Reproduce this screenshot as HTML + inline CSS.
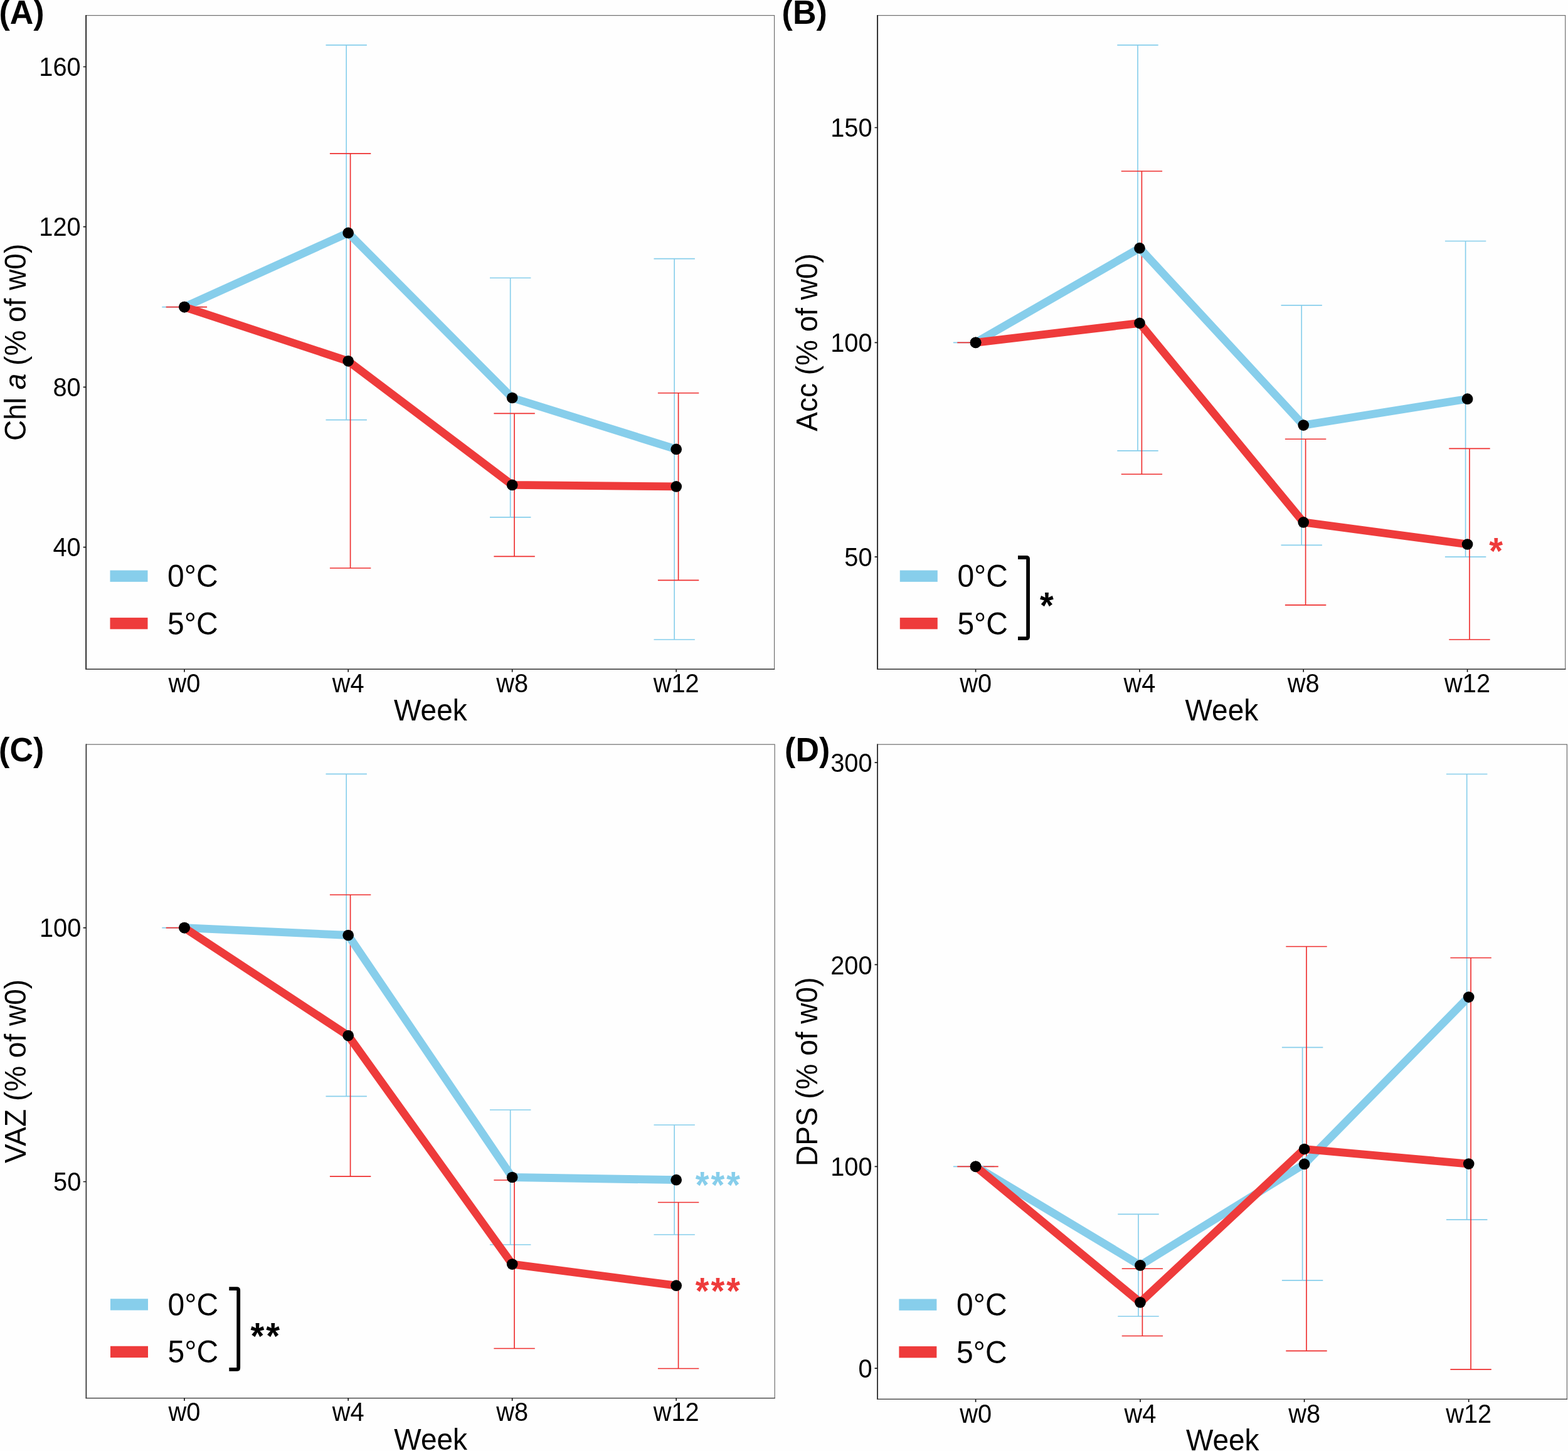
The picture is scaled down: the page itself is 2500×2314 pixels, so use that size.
<!DOCTYPE html>
<html lang="en">
<head>
<meta charset="utf-8">
<title>Pigment content (% of w0) over weeks at 0°C and 5°C</title>
<style>
html,body{margin:0;padding:0;background:#fefefe}
body{width:2500px;height:2314px;overflow:hidden}
svg{display:block}
text{font-family:"Liberation Sans",Arial,Helvetica,sans-serif;fill:#000}
.tk{font-size:39.8px}
.tt{font-size:46px}
.lg{font-size:48px}
.pl{font-size:52px;font-weight:bold}
.st{font-size:56px;font-weight:bold;letter-spacing:2.9px}
</style>
</head>
<body>
<svg width="2500" height="2314" viewBox="0 0 2500 2314">
<rect width="2500" height="2314" fill="#fefefe"/>
<g id="panel-A">
<rect x="137.2" y="24.6" width="1097.4" height="1042.6" fill="none" stroke="#6e6e6e" stroke-width="1.2"/>
<g stroke="#87CEEB" stroke-width="1.65" fill="none">
<path d="M258.3 489.6H323.7"/>
<path d="M519.5 71.8H584.9M519.5 669.6H584.9M552.2 71.8V669.6"/>
<path d="M781 443.2H846.4M781 824.8H846.4M813.7 443.2V824.8"/>
<path d="M1042.5 412.6H1107.9M1042.5 1020H1107.9M1075.2 412.6V1020"/>
</g>
<g stroke="#EE2E2E" stroke-width="1.65" fill="none">
<path d="M264.7 489.6H330.1"/>
<path d="M525.9 244.8H591.3M525.9 906H591.3M558.6 244.8V906"/>
<path d="M787.4 659.4H852.8M787.4 887.4H852.8M820.1 659.4V887.4"/>
<path d="M1048.9 626.7H1114.3M1048.9 925.4H1114.3M1081.6 626.7V925.4"/>
</g>
<polyline points="294,489.6 555.2,371.4 816.7,634.5 1078.2,716.4" fill="none" stroke="#87CEEB" stroke-width="12.8" stroke-linejoin="round" stroke-linecap="butt"/>
<polyline points="294,489.6 555.2,575.8 816.7,773.4 1078.2,775.9" fill="none" stroke="#EE3B3B" stroke-width="12.8" stroke-linejoin="round" stroke-linecap="butt"/>
<g fill="#000">
<circle cx="294" cy="489.6" r="8.85"/>
<circle cx="555.2" cy="371.4" r="8.85"/>
<circle cx="816.7" cy="634.5" r="8.85"/>
<circle cx="1078.2" cy="716.4" r="8.85"/>
<circle cx="294" cy="489.6" r="8.85"/>
<circle cx="555.2" cy="575.8" r="8.85"/>
<circle cx="816.7" cy="773.4" r="8.85"/>
<circle cx="1078.2" cy="775.9" r="8.85"/>
</g>
<path d="M137.2 24V1067.8" fill="none" stroke="#2a2a2a" stroke-width="1.9"/>
<path d="M136.6 1067.2H1235.2" fill="none" stroke="#404040" stroke-width="1.4"/>
<path d="M132.7 106.5H137.2M132.7 361.6H137.2M132.7 617.3H137.2M132.7 872.6H137.2M294 1067.2V1071.7M555.2 1067.2V1071.7M816.7 1067.2V1071.7M1078.2 1067.2V1071.7" stroke="#1a1a1a" stroke-width="1.7" fill="none"/>
<text class="tk" transform="translate(128.7 120.9) scale(1 1.07)" text-anchor="end">160</text>
<text class="tk" transform="translate(128.7 376) scale(1 1.07)" text-anchor="end">120</text>
<text class="tk" transform="translate(128.7 631.7) scale(1 1.07)" text-anchor="end">80</text>
<text class="tk" transform="translate(128.7 887) scale(1 1.07)" text-anchor="end">40</text>
<text class="tk" transform="translate(294 1103.5) scale(1 1.07)" text-anchor="middle">w0</text>
<text class="tk" transform="translate(555.2 1103.5) scale(1 1.07)" text-anchor="middle">w4</text>
<text class="tk" transform="translate(816.7 1103.5) scale(1 1.07)" text-anchor="middle">w8</text>
<text class="tk" transform="translate(1078.2 1103.5) scale(1 1.07)" text-anchor="middle">w12</text>
<text class="tt" transform="translate(686.4 1149.2) scale(1 1.04)" text-anchor="middle">Week</text>
<text class="tt" transform="translate(40.7 545.9) rotate(-90) scale(1 1.04)" text-anchor="middle" xml:space="preserve">Chl <tspan font-style="italic">a</tspan> (% of w0)</text>
<text class="pl" transform="translate(-1.5 38.1) scale(1 1.04)">(A)</text>
<rect x="175.5" y="909.55" width="60" height="18.3" fill="#87CEEB"/>
<rect x="175.5" y="985.05" width="60" height="18.3" fill="#EE3B3B"/>
<text class="lg" transform="translate(267.1 936.1) scale(1 1.06)">0°C</text>
<text class="lg" transform="translate(267.1 1011.6) scale(1 1.06)">5°C</text>
</g>
<g id="panel-B">
<rect x="1399.1" y="24.6" width="1096.6" height="1042.6" fill="none" stroke="#6e6e6e" stroke-width="1.2"/>
<g stroke="#87CEEB" stroke-width="1.65" fill="none">
<path d="M1519.9 546.3H1585.3"/>
<path d="M1781.3 71.8H1846.7M1781.3 718.9H1846.7M1814 71.8V718.9"/>
<path d="M2042.5 486.8H2107.9M2042.5 869.4H2107.9M2075.2 486.8V869.4"/>
<path d="M2303.9 384.5H2369.3M2303.9 888.1H2369.3M2336.6 384.5V888.1"/>
</g>
<g stroke="#EE2E2E" stroke-width="1.65" fill="none">
<path d="M1526.3 546.3H1591.7"/>
<path d="M1787.7 273H1853.1M1787.7 756.2H1853.1M1820.4 273V756.2"/>
<path d="M2048.9 700.2H2114.3M2048.9 964.8H2114.3M2081.6 700.2V964.8"/>
<path d="M2310.3 715.4H2375.7M2310.3 1020H2375.7M2343 715.4V1020"/>
</g>
<polyline points="1555.6,546.3 1817,395.7 2078.2,678.1 2339.6,636.2" fill="none" stroke="#87CEEB" stroke-width="12.8" stroke-linejoin="round" stroke-linecap="butt"/>
<polyline points="1555.6,546.3 1817,515.3 2078.2,832.9 2339.6,868" fill="none" stroke="#EE3B3B" stroke-width="12.8" stroke-linejoin="round" stroke-linecap="butt"/>
<g fill="#000">
<circle cx="1555.6" cy="546.3" r="8.85"/>
<circle cx="1817" cy="395.7" r="8.85"/>
<circle cx="2078.2" cy="678.1" r="8.85"/>
<circle cx="2339.6" cy="636.2" r="8.85"/>
<circle cx="1555.6" cy="546.3" r="8.85"/>
<circle cx="1817" cy="515.3" r="8.85"/>
<circle cx="2078.2" cy="832.9" r="8.85"/>
<circle cx="2339.6" cy="868" r="8.85"/>
</g>
<path d="M1399.1 24V1067.8" fill="none" stroke="#2a2a2a" stroke-width="1.9"/>
<path d="M1398.5 1067.2H2496.3" fill="none" stroke="#404040" stroke-width="1.4"/>
<path d="M1394.6 203.5H1399.1M1394.6 546.3H1399.1M1394.6 888.1H1399.1M1555.6 1067.2V1071.7M1817 1067.2V1071.7M2078.2 1067.2V1071.7M2339.6 1067.2V1071.7" stroke="#1a1a1a" stroke-width="1.7" fill="none"/>
<text class="tk" transform="translate(1390.6 217.9) scale(1 1.07)" text-anchor="end">150</text>
<text class="tk" transform="translate(1390.6 560.7) scale(1 1.07)" text-anchor="end">100</text>
<text class="tk" transform="translate(1390.6 902.5) scale(1 1.07)" text-anchor="end">50</text>
<text class="tk" transform="translate(1555.6 1103.5) scale(1 1.07)" text-anchor="middle">w0</text>
<text class="tk" transform="translate(1817 1103.5) scale(1 1.07)" text-anchor="middle">w4</text>
<text class="tk" transform="translate(2078.2 1103.5) scale(1 1.07)" text-anchor="middle">w8</text>
<text class="tk" transform="translate(2339.6 1103.5) scale(1 1.07)" text-anchor="middle">w12</text>
<text class="tt" transform="translate(1947.9 1149.2) scale(1 1.04)" text-anchor="middle">Week</text>
<text class="tt" transform="translate(1302.6 545.9) rotate(-90) scale(1 1.04)" text-anchor="middle" xml:space="preserve">Acc (% of w0)</text>
<text class="pl" transform="translate(1246.6 38.1) scale(1 1.04)">(B)</text>
<rect x="1434.8" y="909.55" width="60" height="18.3" fill="#87CEEB"/>
<rect x="1434.8" y="985.05" width="60" height="18.3" fill="#EE3B3B"/>
<text class="lg" transform="translate(1526.4 936.1) scale(1 1.06)">0°C</text>
<text class="lg" transform="translate(1526.4 1011.6) scale(1 1.06)">5°C</text>
<path d="M1623 889H1636.5Q1639.1 889 1639.1 891.6V1015.5Q1639.1 1018.1 1636.5 1018.1H1623" fill="none" stroke="#000" stroke-width="5.8" stroke-linejoin="round"/>
<text class="st" transform="translate(1657.9 986.3) scale(1 1.05)" style="fill:#000">*</text>
<text class="st" transform="translate(2374.3 899.2) scale(1 1.05)" style="fill:#EE3B3B">*</text>
</g>
<g id="panel-C">
<rect x="137.2" y="1187.2" width="1098" height="1042.4" fill="none" stroke="#6e6e6e" stroke-width="1.2"/>
<g stroke="#87CEEB" stroke-width="1.65" fill="none">
<path d="M258.3 1479.6H323.7"/>
<path d="M519.5 1234.4H584.9M519.5 1748.4H584.9M552.2 1234.4V1748.4"/>
<path d="M781 1770H846.4M781 1985H846.4M813.7 1770V1985"/>
<path d="M1042.5 1794H1107.9M1042.5 1969H1107.9M1075.2 1794V1969"/>
</g>
<g stroke="#EE2E2E" stroke-width="1.65" fill="none">
<path d="M264.7 1479.6H330.1"/>
<path d="M525.9 1427H591.3M525.9 1876.1H591.3M558.6 1427V1876.1"/>
<path d="M787.4 1882H852.8M787.4 2150.5H852.8M820.1 1882V2150.5"/>
<path d="M1048.9 1917.5H1114.3M1048.9 2182.5H1114.3M1081.6 1917.5V2182.5"/>
</g>
<polyline points="294,1479.6 555.2,1491.5 816.7,1877.5 1078.2,1881.7" fill="none" stroke="#87CEEB" stroke-width="12.8" stroke-linejoin="round" stroke-linecap="butt"/>
<polyline points="294,1479.6 555.2,1651.6 816.7,2016.1 1078.2,2050.2" fill="none" stroke="#EE3B3B" stroke-width="12.8" stroke-linejoin="round" stroke-linecap="butt"/>
<g fill="#000">
<circle cx="294" cy="1479.6" r="8.85"/>
<circle cx="555.2" cy="1491.5" r="8.85"/>
<circle cx="816.7" cy="1877.5" r="8.85"/>
<circle cx="1078.2" cy="1881.7" r="8.85"/>
<circle cx="294" cy="1479.6" r="8.85"/>
<circle cx="555.2" cy="1651.6" r="8.85"/>
<circle cx="816.7" cy="2016.1" r="8.85"/>
<circle cx="1078.2" cy="2050.2" r="8.85"/>
</g>
<path d="M137.5 1186.6V2230.2" fill="none" stroke="#2a2a2a" stroke-width="1.4"/>
<path d="M136.6 2229.6H1235.8" fill="none" stroke="#404040" stroke-width="1.4"/>
<path d="M132.7 1479.6H137.2M132.7 1884.5H137.2M294 2229.6V2234.1M555.2 2229.6V2234.1M816.7 2229.6V2234.1M1078.2 2229.6V2234.1" stroke="#1a1a1a" stroke-width="1.7" fill="none"/>
<text class="tk" transform="translate(129.3 1494) scale(1 1.07)" text-anchor="end">100</text>
<text class="tk" transform="translate(129.3 1898.9) scale(1 1.07)" text-anchor="end">50</text>
<text class="tk" transform="translate(294 2265.9) scale(1 1.07)" text-anchor="middle">w0</text>
<text class="tk" transform="translate(555.2 2265.9) scale(1 1.07)" text-anchor="middle">w4</text>
<text class="tk" transform="translate(816.7 2265.9) scale(1 1.07)" text-anchor="middle">w8</text>
<text class="tk" transform="translate(1078.2 2265.9) scale(1 1.07)" text-anchor="middle">w12</text>
<text class="tt" transform="translate(686.7 2311.6) scale(1 1.04)" text-anchor="middle">Week</text>
<text class="tt" transform="translate(40.7 1708.4) rotate(-90) scale(1 1.04)" text-anchor="middle" xml:space="preserve">VAZ (% of w0)</text>
<text class="pl" transform="translate(-1.9 1213.7) scale(1 1.04)">(C)</text>
<rect x="176" y="2071.25" width="60" height="18.3" fill="#87CEEB"/>
<rect x="176" y="2146.75" width="60" height="18.3" fill="#EE3B3B"/>
<text class="lg" transform="translate(267.6 2097.8) scale(1 1.06)">0°C</text>
<text class="lg" transform="translate(267.6 2173.3) scale(1 1.06)">5°C</text>
<path d="M365.3 2055.1H377.6Q380.2 2055.1 380.2 2057.7V2181.3Q380.2 2183.9 377.6 2183.9H365.3" fill="none" stroke="#000" stroke-width="5.8" stroke-linejoin="round"/>
<text class="st" transform="translate(399.6 2150.8) scale(1 1.05)" style="fill:#000">**</text>
<text class="st" transform="translate(1108.8 1909.5) scale(1 1.05)" style="fill:#87CEEB">***</text>
<text class="st" transform="translate(1108.8 2078.5) scale(1 1.05)" style="fill:#EE3B3B">***</text>
</g>
<g id="panel-D">
<rect x="1399.1" y="1187.2" width="1099.3" height="1044.2" fill="none" stroke="#6e6e6e" stroke-width="1.2"/>
<g stroke="#87CEEB" stroke-width="1.65" fill="none">
<path d="M1519.9 1860.3H1585.3"/>
<path d="M1782.3 1936.3H1847.7M1782.3 2099.2H1847.7M1815 1936.3V2099.2"/>
<path d="M2043.9 1670.3H2109.3M2043.9 2041.8H2109.3M2076.6 1670.3V2041.8"/>
<path d="M2306 1234.5H2371.4M2306 1945.1H2371.4M2338.7 1234.5V1945.1"/>
</g>
<g stroke="#EE2E2E" stroke-width="1.65" fill="none">
<path d="M1526.3 1860.3H1591.7"/>
<path d="M1788.7 2023.2H1854.1M1788.7 2130.5H1854.1M1821.4 2023.2V2130.5"/>
<path d="M2050.3 1509.5H2115.7M2050.3 2154.4H2115.7M2083 1509.5V2154.4"/>
<path d="M2312.4 1527.5H2377.8M2312.4 2183.9H2377.8M2345.1 1527.5V2183.9"/>
</g>
<polyline points="1555.6,1860.3 1818,2017.9 2079.6,1856.4 2341.7,1590.1" fill="none" stroke="#87CEEB" stroke-width="12.8" stroke-linejoin="round" stroke-linecap="butt"/>
<polyline points="1555.6,1860.3 1818,2077 2079.6,1832.5 2341.7,1856.1" fill="none" stroke="#EE3B3B" stroke-width="12.8" stroke-linejoin="round" stroke-linecap="butt"/>
<g fill="#000">
<circle cx="1555.6" cy="1860.3" r="8.85"/>
<circle cx="1818" cy="2017.9" r="8.85"/>
<circle cx="2079.6" cy="1856.4" r="8.85"/>
<circle cx="2341.7" cy="1590.1" r="8.85"/>
<circle cx="1555.6" cy="1860.3" r="8.85"/>
<circle cx="1818" cy="2077" r="8.85"/>
<circle cx="2079.6" cy="1832.5" r="8.85"/>
<circle cx="2341.7" cy="1856.1" r="8.85"/>
</g>
<path d="M1399.1 1186.6V2232" fill="none" stroke="#2a2a2a" stroke-width="1.7"/>
<path d="M1398.5 2231.4H2499" fill="none" stroke="#404040" stroke-width="1.4"/>
<path d="M1394.6 1216.2H1399.1M1394.6 1538.4H1399.1M1394.6 1860.3H1399.1M1394.6 2182.2H1399.1M1555.6 2231.4V2235.9M1818 2231.4V2235.9M2079.6 2231.4V2235.9M2341.7 2231.4V2235.9" stroke="#1a1a1a" stroke-width="1.7" fill="none"/>
<text class="tk" transform="translate(1390.6 1231.3) scale(1 1.07)" text-anchor="end">300</text>
<text class="tk" transform="translate(1390.6 1553.5) scale(1 1.07)" text-anchor="end">200</text>
<text class="tk" transform="translate(1390.6 1875.4) scale(1 1.07)" text-anchor="end">100</text>
<text class="tk" transform="translate(1390.6 2197.3) scale(1 1.07)" text-anchor="end">0</text>
<text class="tk" transform="translate(1555.6 2269.1) scale(1 1.07)" text-anchor="middle">w0</text>
<text class="tk" transform="translate(1818 2269.1) scale(1 1.07)" text-anchor="middle">w4</text>
<text class="tk" transform="translate(2079.6 2269.1) scale(1 1.07)" text-anchor="middle">w8</text>
<text class="tk" transform="translate(2341.7 2269.1) scale(1 1.07)" text-anchor="middle">w12</text>
<text class="tt" transform="translate(1949.25 2313.4) scale(1 1.04)" text-anchor="middle">Week</text>
<text class="tt" transform="translate(1302.6 1709.3) rotate(-90) scale(1 1.04)" text-anchor="middle" xml:space="preserve">DPS (% of w0)</text>
<text class="pl" transform="translate(1251.1 1213.7) scale(1 1.04)">(D)</text>
<rect x="1433.4" y="2071.55" width="60" height="18.3" fill="#87CEEB"/>
<rect x="1433.4" y="2147.05" width="60" height="18.3" fill="#EE3B3B"/>
<text class="lg" transform="translate(1525 2098.1) scale(1 1.06)">0°C</text>
<text class="lg" transform="translate(1525 2173.6) scale(1 1.06)">5°C</text>
</g>
</svg>
</body>
</html>
